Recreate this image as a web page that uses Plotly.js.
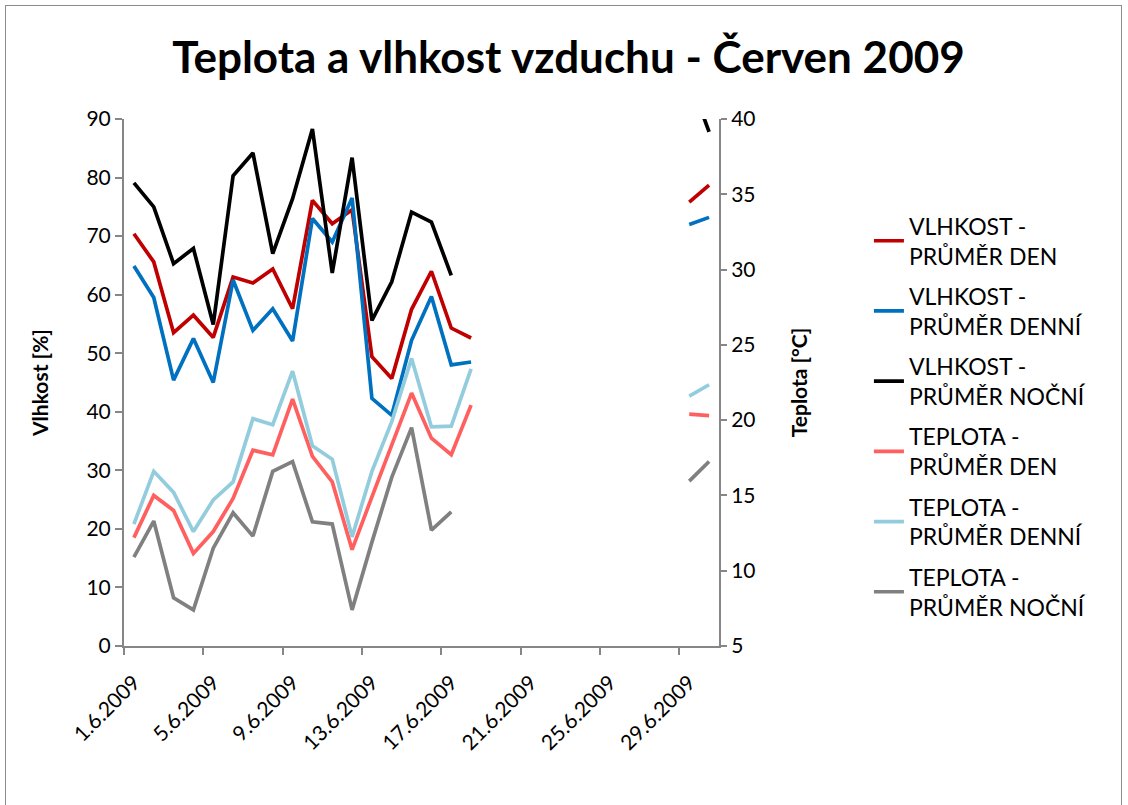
<!DOCTYPE html>
<html>
<head>
<meta charset="utf-8">
<script src="https://cdn.plot.ly/plotly-3.0.1.min.js"></script>
<style>
  html, body { margin: 0; padding: 0; background: #fff; }
  #wrap { position: relative; width: 1128px; height: 805px; }
  #chart { position: absolute; left: 0; top: 0; width: 1128px; height: 805px; }
  #frame { position: absolute; left: 5px; top: 5px; width: 1115px; height: 820px;
           border: 1px solid #8c8c8c; pointer-events: none; }
</style>
</head>
<body>
<div id="wrap"><div id="chart"></div><div id="frame"></div></div>
<script>
// Dates (June 2009), one value per day; null = no measurement
const dates = ['1.6.2009','2.6.2009','3.6.2009','4.6.2009','5.6.2009','6.6.2009','7.6.2009','8.6.2009',
  '9.6.2009','10.6.2009','11.6.2009','12.6.2009','13.6.2009','14.6.2009','15.6.2009','16.6.2009',
  '17.6.2009','18.6.2009','19.6.2009','20.6.2009','21.6.2009','22.6.2009','23.6.2009','24.6.2009',
  '25.6.2009','26.6.2009','27.6.2009','28.6.2009','29.6.2009','30.6.2009'];

// Humidity [%]
const vlhkostDen    = [70.4, 65.6, 53.5, 56.5, 52.7, 63.0, 62.0, 64.4, 57.6, 76.1, 72.1, 74.5, 49.4, 45.7, 57.5, 64.0, 54.3, 52.6,
                       null, null, null, null, null, null, null, null, null, null, 75.8, 78.7];
const vlhkostDenni  = [64.9, 59.5, 45.4, 52.5, 45.0, 62.5, 53.9, 57.6, 52.1, 73.0, 69.0, 76.5, 42.3, 39.4, 52.2, 59.7, 48.0, 48.5,
                       null, null, null, null, null, null, null, null, null, null, 72.0, 73.2];
const vlhkostNocni  = [79.1, 75.0, 65.3, 67.9, 54.9, 80.3, 84.2, 67.0, 76.4, 88.3, 63.7, 83.4, 55.6, 62.2, 74.1, 72.4, 63.3, null,
                       null, null, null, null, null, null, null, null, null, null, 97.0, 87.8];
// Temperature [°C]
const teplotaDen    = [12.2, 15.0, 14.0, 11.15, 12.6, 14.8, 18.0, 17.7, 21.4, 17.6, 15.9, 11.4, 14.9, 18.3, 21.8, 18.8, 17.7, 21.0,
                       null, null, null, null, null, null, null, null, null, null, 20.4, 20.3];
const teplotaDenni  = [13.1, 16.6, 15.2, 12.6, 14.7, 15.9, 20.1, 19.7, 23.25, 18.3, 17.4, 12.25, 16.6, 19.9, 24.1, 19.55, 19.6, 23.4,
                       null, null, null, null, null, null, null, null, null, null, 21.6, 22.35];
const teplotaNocni  = [10.9, 13.3, 8.2, 7.4, 11.5, 13.85, 12.3, 16.6, 17.25, 13.25, 13.1, 7.4, 11.9, 16.2, 19.5, 12.7, 13.9, null,
                       null, null, null, null, null, null, null, null, null, null, 15.95, 17.25];

const seriesNames = ['VLHKOST -<br>PRŮMĚR DEN', 'VLHKOST -<br>PRŮMĚR DENNÍ', 'VLHKOST -<br>PRŮMĚR NOČNÍ',
                     'TEPLOTA -<br>PRŮMĚR DEN', 'TEPLOTA -<br>PRŮMĚR DENNÍ', 'TEPLOTA -<br>PRŮMĚR NOČNÍ'];
const seriesColors = ['#C00000', '#0070C0', '#000000', '#FF5F5F', '#93CDDD', '#808080'];
const tickLabels = ['1.6.2009','5.6.2009','9.6.2009','13.6.2009','17.6.2009','21.6.2009','25.6.2009','29.6.2009'];

// day number (1..30) from the date label
const dayNum = d => parseInt(d.split('.')[0], 10);
const xs = dates.map(dayNum);
const tickVals = tickLabels.map(dayNum);
const boundaryVals = tickVals.map(v => v - 0.5);

const seriesData = [vlhkostDen, vlhkostDenni, vlhkostNocni, teplotaDen, teplotaDenni, teplotaNocni];
const axes = ['y', 'y', 'y', 'y2', 'y2', 'y2'];

const FONT = 'Lato, "Open Sans", sans-serif';
const AX = '#868686';

const traces = seriesData.map((vals, i) => ({
  type: 'scatter', mode: 'lines',
  x: xs, y: vals, yaxis: axes[i],
  name: seriesNames[i], legendgroup: 'g' + i,
  line: { color: seriesColors[i], width: 3.7 },
  connectgaps: false, hoverinfo: 'skip'
}));

const layout = {
  width: 1128, height: 805,
  margin: { l: 124, r: 409, t: 119, b: 159 },
  paper_bgcolor: '#fff', plot_bgcolor: '#fff',
  font: { family: FONT, color: '#000', size: 20 },
  title: { text: 'Teplota a vlhkost vzduchu - Červen 2009',
           font: { family: FONT, size: 44, weight: 'bold', color: '#000' },
           xref: 'container', yref: 'container', x: 0.504, y: 0.928,
           xanchor: 'center', yanchor: 'middle' },
  showlegend: true,
  legend: { x: 1.252, y: 0.838, xanchor: 'left', yanchor: 'top',
            font: { family: FONT, size: 23, color: '#000' },
            tracegroupgap: 7.4, bgcolor: 'rgba(0,0,0,0)' },
  xaxis: {
    range: [0.5, 30.5], tickmode: 'array', tickvals: tickVals, ticktext: tickLabels,
    tickangle: -45, ticks: 'outside', ticklen: 14, tickcolor: 'rgba(0,0,0,0)',
    showline: true, linecolor: AX, linewidth: 2, showgrid: false, zeroline: false,
    tickfont: { family: FONT, size: 21, color: '#000' },
    minor: { tickmode: 'array', tickvals: boundaryVals, ticks: 'outside', ticklen: 7,
             tickcolor: AX, tickwidth: 2, showgrid: false },
    fixedrange: true
  },
  yaxis: {
    range: [0, 90], dtick: 10, tick0: 0, ticks: 'outside', ticklen: 7, tickwidth: 2, tickcolor: AX,
    showline: true, linecolor: AX, linewidth: 2, showgrid: false, zeroline: false,
    tickfont: { family: FONT, size: 21, color: '#000' },
    title: { text: 'Vlhkost [%]', font: { family: FONT, size: 21, weight: 'bold', color: '#000' }, standoff: 32 },
    fixedrange: true
  },
  yaxis2: {
    overlaying: 'y', side: 'right', anchor: 'x',
    range: [5, 40], dtick: 5, tick0: 5, ticks: 'outside', ticklen: 6, tickwidth: 2, tickcolor: AX,
    showline: true, linecolor: AX, linewidth: 2, showgrid: false, zeroline: false,
    tickfont: { family: FONT, size: 21, color: '#000' },
    title: { text: 'Teplota [°C]', font: { family: FONT, size: 21, weight: 'bold', color: '#000' }, standoff: 38 },
    fixedrange: true
  }
};

Plotly.newPlot('chart', traces, layout, { displayModeBar: false, staticPlot: true });
</script>
</body>
</html>
